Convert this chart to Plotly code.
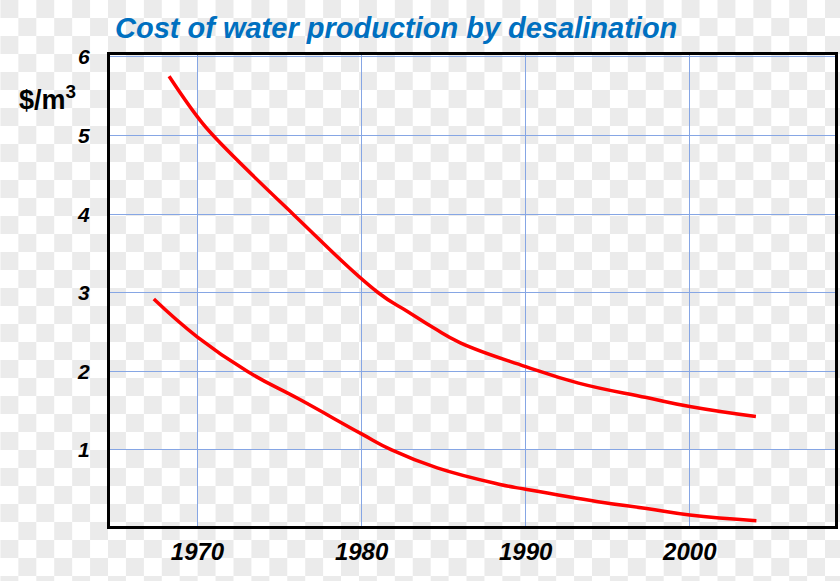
import plotly.graph_objects as go

# Data (year, $/m3)
upper_years = [1968.27, 1970.0, 1970.96, 1975.83, 1981.02, 1982.80,
               1984.41, 1986.02, 1990.0, 1993.22, 1997.37, 2000.0, 2004.03]
upper_cost = [5.755, 5.238, 5.0, 4.0, 3.0, 2.762,
              2.550, 2.363, 2.061, 1.850, 1.666, 1.552, 1.424]

lower_years = [1967.34, 1970.0, 1973.03, 1976.24, 1980.0, 1981.83, 1984.61, 1988.44,
               1990.0, 1994.41, 1997.37, 2000.0, 2004.06]
lower_cost = [2.920, 2.436, 2.0, 1.641, 1.204, 1.0, 0.771, 0.561,
              0.499, 0.341, 0.254, 0.172, 0.099]

x_ticks = [1970, 1980, 1990, 2000]
y_ticks = [1, 2, 3, 4, 5, 6]

title_text = "Cost of water production by desalination"
unit_text = "$/m<sup>3</sup>"

FONT = "Liberation Sans, Arial, sans-serif"
W, H = 840, 581
ML, MR, MT, MB = 110, 2, 55, 55
PW, PH = W - ML - MR, H - MT - MB
CELL = 18


def px_x(p):
    return (p - ML) / PW


def px_y(p):
    return 1 - (p - MT) / PH


# checkerboard backdrop (the reference sits on a transparency pattern)
shapes = []
for i in range(W // CELL + 1):
    for j in range(H // CELL + 1):
        if (i + j) % 2 == 0:
            shapes.append(dict(type="rect", xref="paper", yref="paper", layer="below",
                               x0=px_x(i * CELL), x1=px_x((i + 1) * CELL),
                               y0=px_y(j * CELL), y1=px_y((j + 1) * CELL),
                               fillcolor="#EBEBEB", line=dict(width=0)))

fig = go.Figure()
for xs, ys in [(upper_years, upper_cost), (lower_years, lower_cost)]:
    fig.add_trace(go.Scatter(x=xs, y=ys, mode="lines",
                             line=dict(color="#FF0000", width=3.5, shape="spline", smoothing=1.3),
                             showlegend=False, hoverinfo="skip"))

fig.update_layout(
    width=W, height=H,
    margin=dict(l=ML, r=MR, t=MT, b=MB),
    paper_bgcolor="white", plot_bgcolor="rgba(0,0,0,0)",
    title=dict(text=title_text, xref="container", yref="container",
               x=115/W, xanchor="left", y=1-28/H, yanchor="middle",
               font=dict(family=FONT, size=29, color="#0070C0", weight="bold", style="italic")),
    showlegend=False,
    shapes=shapes,
)
fig.update_xaxes(range=[1964.67, 2008.85], tickvals=x_ticks, ticktext=[str(v) for v in x_ticks],
                 showgrid=True, gridcolor="#86A6E4", gridwidth=1, zeroline=False,
                 showline=True, linecolor="black", linewidth=3, mirror=True,
                 ticks="", ticklabelstandoff=2,
                 tickfont=dict(family=FONT, size=24, color="black", weight="bold", style="italic"))
fig.update_yaxes(range=[0.032, 6.025], tickvals=y_ticks, ticktext=[str(v) for v in y_ticks],
                 showgrid=True, gridcolor="#86A6E4", gridwidth=1, zeroline=False,
                 showline=True, linecolor="black", linewidth=3, mirror=True,
                 ticks="", ticklabelstandoff=13,
                 tickfont=dict(family=FONT, size=21, color="black", weight="bold", style="italic"))
fig.add_annotation(text=unit_text, xref="paper", yref="paper", x=px_x(17), y=px_y(98),
                   xanchor="left", yanchor="middle", showarrow=False,
                   font=dict(family=FONT, size=27, color="black", weight="bold"))

fig.write_html("out.html", config={"displayModeBar": False},
               post_script="document.body.style.margin='0px';")
